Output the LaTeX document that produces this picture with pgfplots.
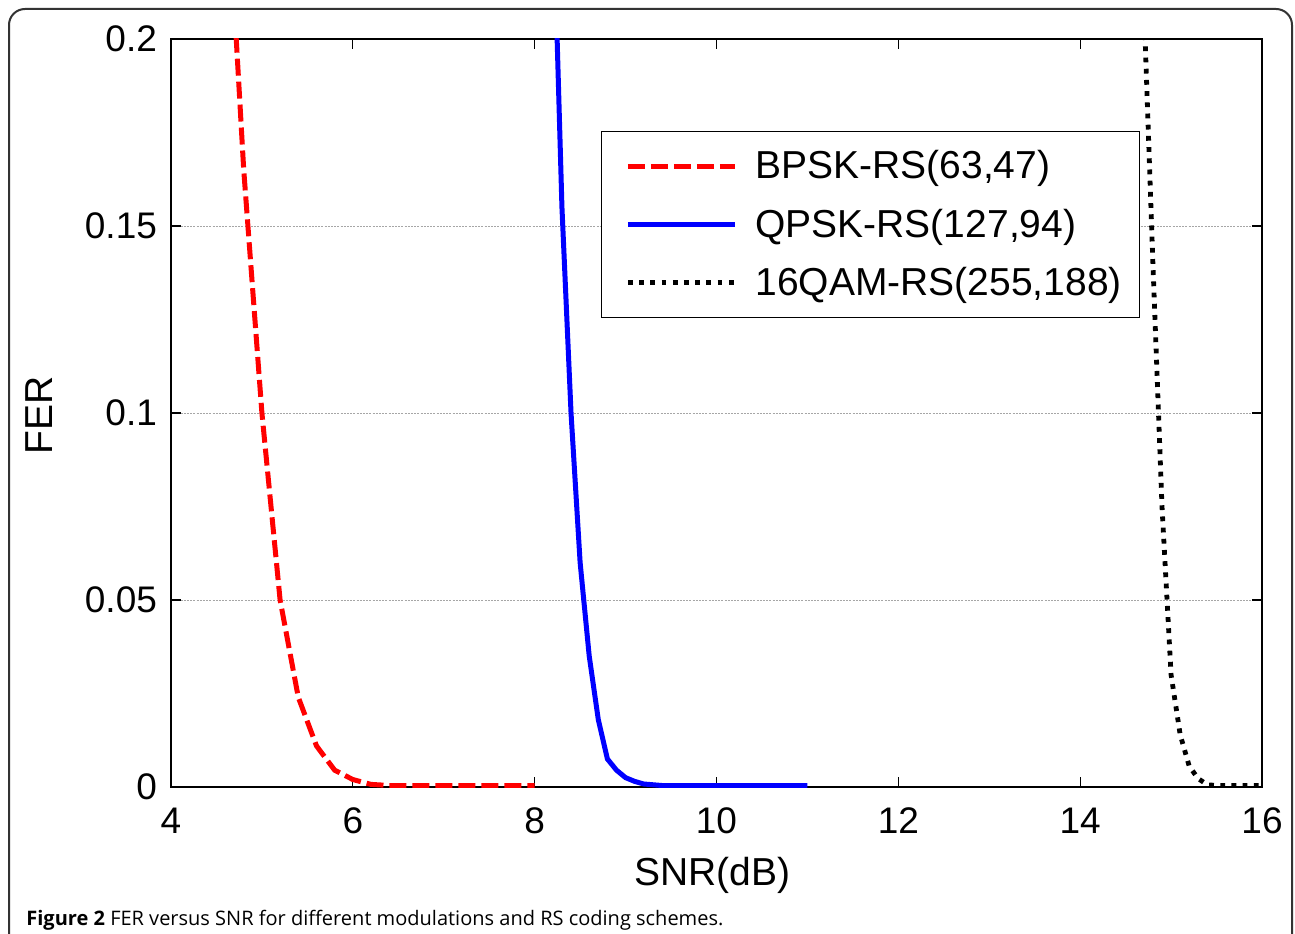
\documentclass[border=0pt]{standalone}
\usepackage{fontspec}
\setmainfont{Liberation Sans}
\newfontfamily\capfont{Open Sans}
\usepackage{pgfplots}
\pgfplotsset{compat=1.18}

\pgfplotstableread{
x y
4.6 0.25
4.8 0.165
5.0 0.100
5.2 0.050
5.4 0.024
5.6 0.011
5.8 0.0045
6.0 0.0020
6.2 0.0007
6.4 0.0004
6.6 0.0004
7.0 0.0004
7.5 0.0004
8.0 0.0004
}\bpsk

\pgfplotstableread{
x y
8.2 0.240
8.3 0.155
8.4 0.100
8.5 0.060
8.6 0.035
8.7 0.018
8.8 0.0075
8.9 0.0045
9.0 0.0025
9.1 0.0015
9.2 0.0008
9.4 0.0004
9.6 0.0004
10.0 0.0004
10.5 0.0004
11.0 0.0004
}\qpsk

\pgfplotstableread{
x y
14.7 0.210
14.8 0.140
14.9 0.075
15.0 0.030
15.1 0.014
15.2 0.0055
15.3 0.0022
15.4 0.0006
15.5 0.0004
15.6 0.0004
15.8 0.0004
16.0 0.0004
}\qam

\begin{document}
\begin{tikzpicture}
\useasboundingbox (0,0) rectangle (647.5pt,466.5pt);
\fill[white] (0,0) rectangle (647.5pt,466.5pt);
\draw[line width=1pt, color=black!80, rounded corners=8pt] (4.5pt,-10pt) -- (4.5pt,462pt) -- (646pt,462pt) -- (646pt,-10pt);
\node[anchor=base west, inner sep=0pt] at (13pt,4pt) {\resizebox{348.5pt}{!}{\capfont\fontsize{8.5}{10}\selectfont\textbf{Figure 2} FER versus SNR for different modulations and RS coding schemes.}};
\begin{axis}[
  at={(85.5pt,73pt)}, anchor=south west,
  scale only axis, width=545.5pt, height=374pt,
  xmin=4, xmax=16, ymin=0, ymax=0.2,
  xtick={4,6,8,10,12,14,16},
  xticklabels={4,6,8,10,12,14,16},
  ytick={0,0.05,0.1,0.15,0.2},
  yticklabels={0,0.05,0.1,0.15,0.2},
  tick label style={font=\fontsize{18.5}{22}\selectfont},
  xticklabel style={yshift=-7pt},
  yticklabel style={xshift=-3.5pt},
  tick align=inside,
  major tick length=5pt,
  tick style={black, line width=0.6pt},
  axis line style={line width=0.8pt},
  ymajorgrids=true,
  grid style={gray!70, line width=0.4pt, dash pattern=on 1pt off 0.6pt},
  xlabel={SNR(dB)}, ylabel={FER},
  label style={font=\fontsize{19.5}{23}\selectfont},
  xlabel style={at={(axis description cs:0.496,-0.118)}, anchor=center},
  ylabel style={at={(axis description cs:-0.121,0.497)}, anchor=center, rotate=0},
  legend cell align=left,
  legend style={at={(0.394,0.877)}, anchor=north west, draw=black, line width=0.6pt, fill=white,
    font=\fontsize{19.5}{23}\selectfont, inner xsep=7pt, inner ysep=7.5pt, row sep=9.5pt,
    /tikz/every odd column/.append style={column sep=7pt}},
  legend image code/.code={\path (0pt,0pt); \draw[#1] (5pt,0pt) -- (58.5pt,0pt);},
]
\addplot[red, line width=2.5pt, dash pattern=on 8.5pt off 3pt] table {\bpsk};
\addlegendentry{BPSK-RS(63,47)}
\addplot[blue, line width=2.5pt] table {\qpsk};
\addlegendentry{QPSK-RS(127,94)}
\addplot[black, line width=2.4pt, dash pattern=on 2.4pt off 3.2pt] table {\qam};
\addlegendentry{16QAM-RS(255,188)}
\end{axis}
\end{tikzpicture}
\end{document}
